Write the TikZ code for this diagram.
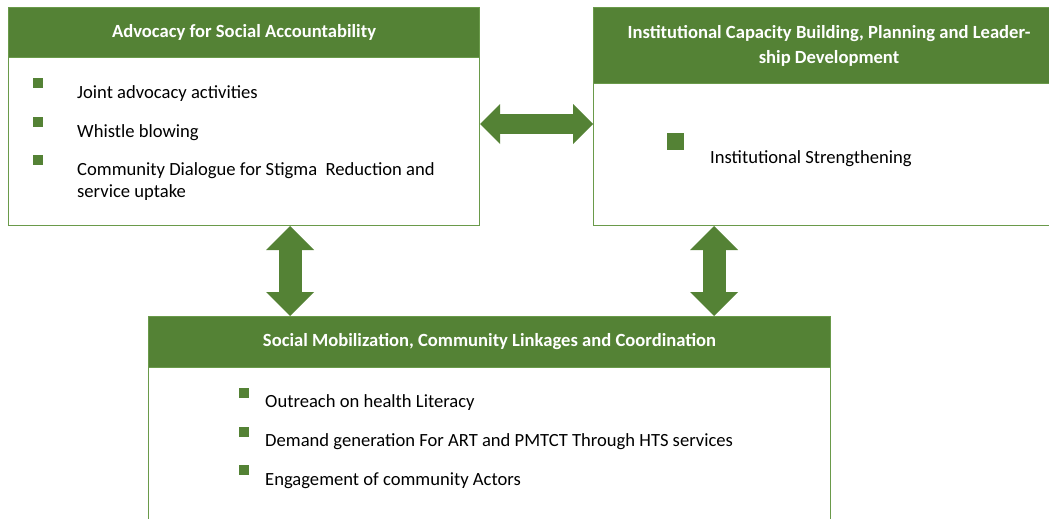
\documentclass[tikz,border=0pt]{standalone}
\usepackage{fontspec}
\setmainfont{Carlito}
\usetikzlibrary{arrows.meta,positioning,calc}
\definecolor{leafgreen}{HTML}{548235}
\definecolor{edgegreen}{HTML}{6A9A4A}

\begin{document}
\begin{tikzpicture}[
    x=1pt, y=-1pt,
    panel/.style={rectangle, draw=edgegreen, line width=1pt, fill=white, anchor=north west, inner sep=0pt},
    banner/.style={rectangle, draw=edgegreen, fill=leafgreen, line width=1pt, anchor=north west, inner sep=0pt,
        text=white, align=center, font=\fontsize{18.6}{25}\selectfont\bfseries},
    tick/.style={rectangle, fill=leafgreen, inner sep=0pt, minimum size=10pt},
    item/.style={anchor=base west, inner sep=0pt, align=left, font=\fontsize{18.6}{21.5}\selectfont},
    hlink/.style={{Triangle[length=20pt,width=40pt,line width=0pt]}-{Triangle[length=20pt,width=40pt,line width=0pt]},
        line width=20pt, leafgreen},
    vlink/.style={{Triangle[length=24pt,width=48pt,line width=0pt]}-{Triangle[length=24pt,width=48pt,line width=0pt]},
        line width=23pt, leafgreen},
]
    \useasboundingbox (0,0) rectangle (1049,519);
    \clip (0,0) rectangle (1049,519);

    % three panels
    \node[panel, minimum width=471pt, minimum height=218pt] (adv) at (8,7) {};
    \node[banner, minimum width=471pt, minimum height=50pt] (advhead) at (8,7) {Advocacy for Social Accountability};
    \node[panel, minimum width=471pt, minimum height=218pt] (inst) at (593,7) {};
    \node[banner, minimum width=471pt, minimum height=76pt] (insthead) at (593,7)
        {Institutional Capacity Building, Planning and Leader-\\ship Development};
    \node[panel, minimum width=682pt, minimum height=260pt] (mob) at (148,316) {};
    \node[banner, minimum width=682pt, minimum height=51pt] (mobhead) at (148,316)
        {Social Mobilization, Community Linkages and Coordination};

    % items
    \node[tick] (adv1) at (38,83) {};
    \node[item] (advtext1) at (77,98) {Joint advocacy activities};
    \node[tick] (adv2) at (38,122) {};
    \node[item] (advtext2) at (77,137) {Whistle blowing};
    \node[tick] (adv3) at (38,160) {};
    \node[item] (advtext3) at (77,197) {Community Dialogue for Stigma\ \ Reduction and\\service uptake};

    \node[tick, minimum size=17pt] (inst1) at (675,141) {};
    \node[item] (insttext1) at (710,163) {Institutional Strengthening};

    \node[tick] (mob1) at (244,393) {};
    \node[item] (mobtext1) at (265,407) {Outreach on health Literacy};
    \node[tick] (mob2) at (244,432) {};
    \node[item] (mobtext2) at (265,446) {Demand generation For ART and PMTCT Through HTS services};
    \node[tick] (mob3) at (244,470) {};
    \node[item] (mobtext3) at (265,485) {Engagement of community Actors};

    % two-way links
    \coordinate (hrow) at (0,124);
    \coordinate (lcol) at (290,0);
    \coordinate (rcol) at (714,0);
    \draw[hlink] (adv.east |- hrow) -- (inst.west |- hrow);
    \draw[vlink] (adv.south -| lcol) -- (mobhead.north -| lcol);
    \draw[vlink] (inst.south -| rcol) -- (mobhead.north -| rcol);
\end{tikzpicture}
\end{document}
